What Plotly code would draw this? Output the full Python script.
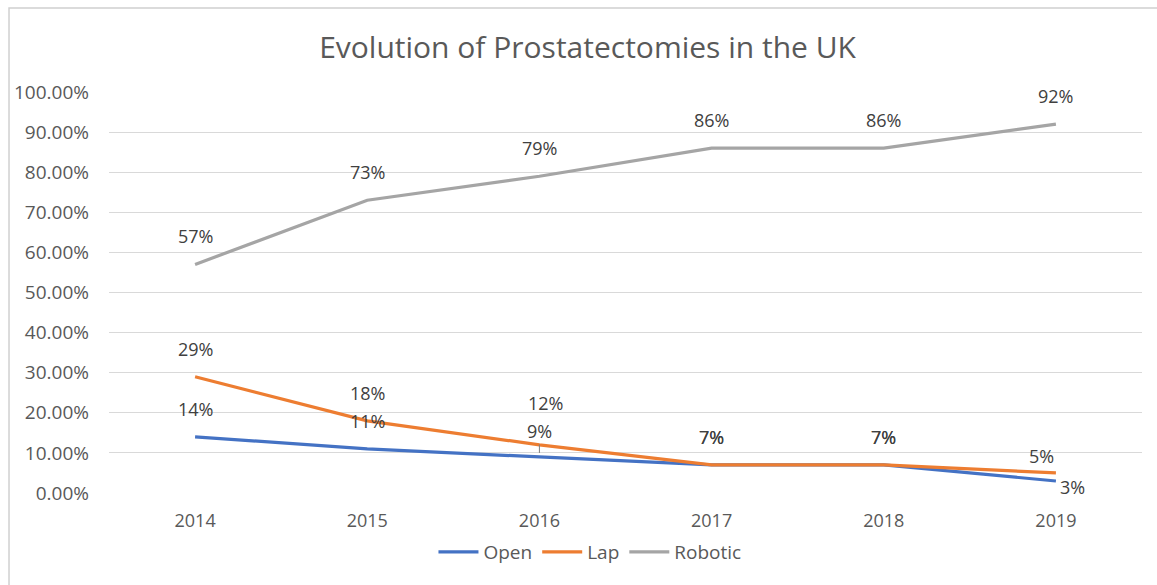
import plotly.graph_objects as go

# Share of prostatectomies by surgical approach, UK
years = ["2014", "2015", "2016", "2017", "2018", "2019"]
open_pct = [0.14, 0.11, 0.09, 0.07, 0.07, 0.03]
lap_pct = [0.29, 0.18, 0.12, 0.07, 0.07, 0.05]
robotic_pct = [0.57, 0.73, 0.79, 0.86, 0.86, 0.92]

y_ticks = [i / 10 for i in range(11)]

FONT = "Open Sans"
TEXT_GREY = "#595959"
LABEL_GREY = "#404040"

series = [
    ("Open", open_pct, "#4472C4"),
    ("Lap", lap_pct, "#ED7D31"),
    ("Robotic", robotic_pct, "#A5A5A5"),
]

fig = go.Figure()
for name, vals, color in series:
    fig.add_trace(go.Scatter(
        x=years, y=vals, name=name, mode="lines",
        line=dict(color=color, width=3.2),
        hoverinfo="skip",
    ))

# Data-label placement (pixel offsets from each point); a few labels are
# nudged so they do not collide with neighbouring lines or labels.
default_offset = (0, -28)
label_offsets = {
    ("Lap", "2016"): (6, -42),
    ("Open", "2016"): (0, -26),
    ("Lap", "2019"): (-14, -17),
    ("Open", "2019"): (17, 6),
}
leader_lines = {("Open", "2016")}

annotations = []
for name, vals, color in series:
    for idx, (yr, v) in enumerate(zip(years, vals)):
        ax, ay = label_offsets.get((name, yr), default_offset)
        leader = (name, yr) in leader_lines
        annotations.append(dict(
            # category axes position annotations by category index
            x=idx, y=v, xref="x", yref="y",
            text=f"{round(v * 100)}%",
            showarrow=True, ax=ax, ay=ay,
            arrowhead=0, arrowwidth=1,
            arrowcolor="#7f7f7f" if leader else "rgba(0,0,0,0)",
            standoff=4 if leader else 0,
            font=dict(family=FONT, size=18, color=LABEL_GREY),
        ))

fig.update_layout(
    width=1157, height=585,
    margin=dict(l=109, r=15, t=92, b=92),
    paper_bgcolor="white", plot_bgcolor="white",
    font=dict(family=FONT, color=TEXT_GREY),
    title=dict(
        text="Evolution of Prostatectomies in the UK",
        x=0.5078, xref="container", xanchor="center",
        y=1 - 47 / 585, yref="container", yanchor="middle",
        font=dict(family=FONT, size=30, color=TEXT_GREY),
    ),
    xaxis=dict(
        type="category", range=[-0.5, len(years) - 0.5],
        showgrid=False, zeroline=False,
        showline=False, ticks="",
        tickfont=dict(family=FONT, size=18, color=TEXT_GREY),
        ticklabelstandoff=15,
    ),
    yaxis=dict(
        range=[0, 1.0], tickvals=y_ticks, tickformat=".2%",
        showgrid=True, gridcolor="#D9D9D9", gridwidth=1,
        zeroline=False, showline=False, ticks="",
        tickfont=dict(family=FONT, size=19, color=TEXT_GREY),
        ticklabelstandoff=19,
    ),
    legend=dict(
        orientation="h", x=0.4656, xanchor="center",
        y=-0.147, yanchor="middle",
        font=dict(family=FONT, size=19, color=TEXT_GREY),
        itemwidth=40, tracegroupgap=0,
    ),
    annotations=annotations,
    shapes=[dict(
        type="rect", xref="paper", yref="paper",
        x0=-0.0968, x1=1.03, y0=-0.26, y1=1.2095,
        line=dict(color="#D0D0D0", width=1.5),
        layer="below",
    )],
)

fig.write_html("out.html")
